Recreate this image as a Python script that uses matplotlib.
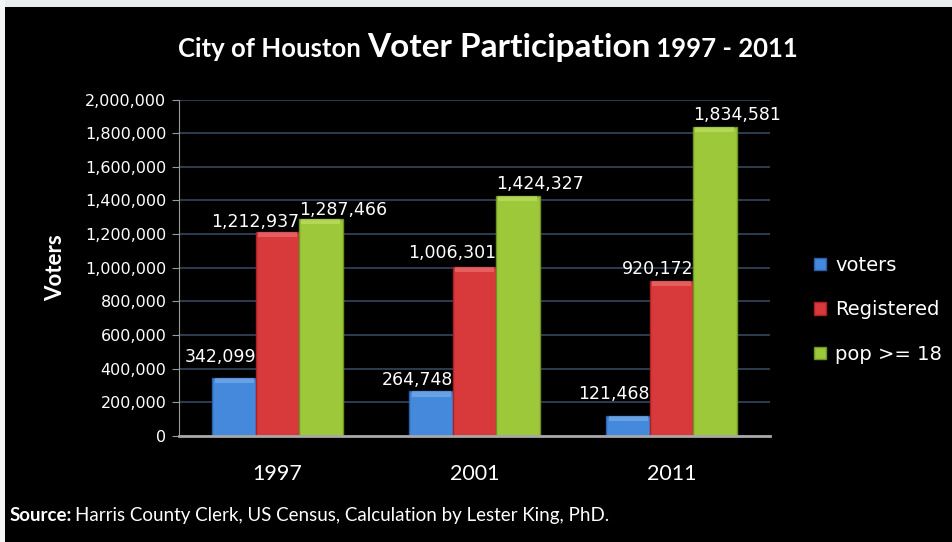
import matplotlib.pyplot as plt
import matplotlib.patches as mpatches
import numpy as np

years = ["1997", "2001", "2011"]
voters = [342099, 264748, 121468]
registered = [1212937, 1006301, 920172]
pop_18 = [1287466, 1424327, 1834581]

series_names = ["voters", "Registered", "pop >= 18"]
colours = ["#4589dc", "#d8393b", "#9cc83a"]
edges = ["#2c5fa8", "#a82226", "#6f9425"]
tops = ["#7fb3ee", "#ee7a7c", "#c2e46a"]

# gap in pixels between each bar top and the baseline of its label
label_gap = [[16, 6, 17], [5, 9, 7], [4, 7, 7]]

title_font = "Lato"
num_font = "DejaVu Sans"

fig = plt.figure(figsize=(9.52, 5.42), dpi=100)
fig.patch.set_facecolor("black")

# faded strip along the top and left edge
fig.add_artist(mpatches.Rectangle((0, 1 - 7 / 542), 1, 7 / 542, transform=fig.transFigure,
                                  facecolor="#e9ecef", edgecolor="none"))
fig.add_artist(mpatches.Rectangle((0, 0), 5 / 952, 1, transform=fig.transFigure,
                                  facecolor="#f4f4f4", edgecolor="none"))

ax = fig.add_axes([179 / 952, (542 - 436) / 542, (770 - 179) / 952, (436 - 99.5) / 542])
ax.set_facecolor("black")

x = np.arange(len(years))
width = 0.22
all_series = [voters, registered, pop_18]
cap = 30000  # height of the lighter cap on each bar

for i, vals in enumerate(all_series):
    pos = x + (i - 1) * width
    bars = ax.bar(pos, vals, width=width, color=colours[i], edgecolor=edges[i],
                  linewidth=1.0, label=series_names[i], zorder=3)
    ax.bar(pos, [cap] * len(vals), bottom=np.array(vals) - cap, width=width * 0.9,
           color=tops[i], edgecolor="none", alpha=0.6, zorder=3.5)
    for j, (b, v) in enumerate(zip(bars, vals)):
        # first two series: label flush with bar's right edge; last series: left edge
        if i < 2:
            bx, ha = b.get_x() + b.get_width(), "right"
        else:
            bx, ha = b.get_x(), "left"
        ax.annotate(f"{v:,}", (bx, v), xytext=(0, label_gap[i][j] * 0.72),
                    textcoords="offset points", ha=ha, va="baseline",
                    color="white", fontsize=12.5, family=num_font, zorder=4)

ax.set_xlim(-0.5, 2.5)
ax.set_ylim(0, 2000000)
ax.set_yticks(np.arange(0, 2000001, 200000))
ax.set_yticklabels([f"{v:,}" for v in np.arange(0, 2000001, 200000)],
                   color="white", fontsize=11.5, family=num_font)
ax.set_xticks(x)
ax.set_xticklabels(years, color="white", fontsize=15.5, family=title_font)
ax.tick_params(axis="x", length=0, pad=20)
ax.tick_params(axis="y", length=5, color="#9a9a9a", pad=4)

ax.grid(axis="y", color="#34465c", linewidth=1.2, zorder=0)
for s in ["top", "right"]:
    ax.spines[s].set_visible(False)
ax.spines["left"].set_color("#9a9a9a")
ax.spines["bottom"].set_color("#a8a8a8")
ax.spines["bottom"].set_linewidth(2)
ax.spines["bottom"].set_zorder(5)

ax.set_ylabel("Voters", color="white", fontsize=16, fontweight="bold", family=title_font)
ax.yaxis.set_label_coords(-0.191, 0.5)

leg = ax.legend(loc="center left", bbox_to_anchor=(1.045, 0.375), frameon=False,
                prop={"family": num_font, "size": 14}, labelcolor="white",
                handlelength=0.6, handleheight=0.6, handletextpad=0.5, labelspacing=1.3)

# title made of three pieces with different sizes
fig.canvas.draw()
renderer = fig.canvas.get_renderer()
parts = [("City of Houston ", 18.5), ("Voter Participation", 24), (" 1997 - 2011", 18.5)]
texts = []
for s, size in parts:
    t = fig.text(0, 0, s, fontsize=size, fontweight="bold", color="white",
                 family=title_font, va="baseline", ha="left")
    texts.append(t)
widths = [t.get_window_extent(renderer).width for t in texts]
total = sum(widths)
start = 488 - total / 2
cur = start
for t, w in zip(texts, widths):
    t.set_position((cur / 952, 1 - 57 / 542))
    cur += w

# source note
src1 = fig.text(10 / 952, 1 - 521 / 542, "Source:", fontsize=13.5, fontweight="bold",
                color="white", family=title_font, va="baseline")
w1 = src1.get_window_extent(renderer).width
fig.text((10 + w1 + 3) / 952, 1 - 521 / 542,
         "Harris County Clerk, US Census, Calculation by Lester King, PhD.",
         fontsize=13.5, color="white", family=title_font, va="baseline")

fig.savefig("out.png", dpi=100, facecolor=fig.get_facecolor())
